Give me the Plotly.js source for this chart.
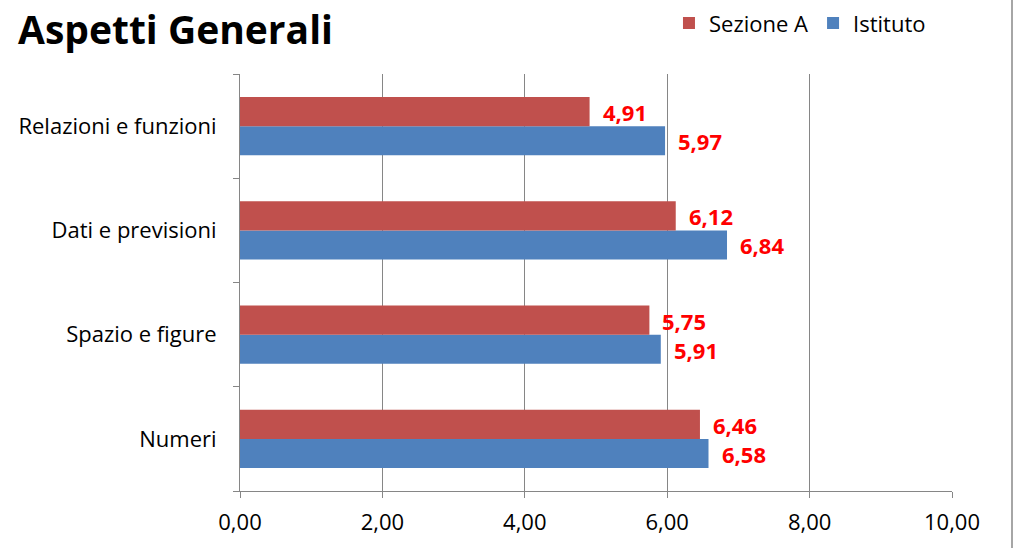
<!DOCTYPE html>
<html>
<head>
<meta charset="utf-8">
<script src="https://cdn.plot.ly/plotly-3.0.1.min.js"></script>
<style>html,body{margin:0;padding:0;background:#fff;}#chart{width:1018px;height:548px;}</style>
</head>
<body>
<div id="chart"></div>
<script>
const categories = ['Numeri', 'Spazio e figure', 'Dati e previsioni', 'Relazioni e funzioni'];
const sezioneA = [6.46, 5.75, 6.12, 4.91];
const istituto = [6.58, 5.91, 6.84, 5.97];
const xTickVals = [0, 2, 4, 6, 8, 10];
const xTickText = ['0,00', '2,00', '4,00', '6,00', '8,00', '10,00'];

const fmt = v => v.toFixed(2).replace('.', ',');
const FONT = '"Open Sans", sans-serif';

const traces = [
  {type: 'bar', orientation: 'h', name: 'Istituto', y: categories, x: istituto,
   marker: {color: '#4F81BD'}, hoverinfo: 'skip'},
  {type: 'bar', orientation: 'h', name: 'Sezione A', y: categories, x: sezioneA,
   marker: {color: '#C0504D'}, hoverinfo: 'skip'}
];

const annotations = [];
categories.forEach((c, i) => {
  annotations.push({x: sezioneA[i], y: c, text: fmt(sezioneA[i]), showarrow: false,
    xanchor: 'left', yanchor: 'middle', xshift: 11, yshift: 14,
    font: {family: FONT, size: 22, color: '#FF0000', weight: 'bold'}});
  annotations.push({x: istituto[i], y: c, text: fmt(istituto[i]), showarrow: false,
    xanchor: 'left', yanchor: 'middle', xshift: 11, yshift: -15,
    font: {family: FONT, size: 22, color: '#FF0000', weight: 'bold'}});
});

const layout = {
  width: 1018, height: 548,
  margin: {l: 240, r: 66, t: 74, b: 57, autoexpand: false},
  paper_bgcolor: '#fff', plot_bgcolor: '#fff',
  font: {family: FONT, size: 22, color: '#000'},
  title: {text: '<b>Aspetti Generali</b>', font: {family: FONT, size: 39, color: '#000'},
    xref: 'container', x: 18/1018, xanchor: 'left', yref: 'container', y: 1 - 30/548, yanchor: 'middle'},
  barmode: 'group', bargap: 0.44, bargroupgap: 0,
  showlegend: true,
  legend: {orientation: 'h', traceorder: 'reversed', x: 0.6025, y: 1.122, xanchor: 'left', yanchor: 'middle',
    font: {family: FONT, size: 22, color: '#000'}, itemclick: false, itemwidth: 30},
  xaxis: {range: [0, 10], tickvals: xTickVals, ticktext: xTickText, showgrid: true, gridcolor: '#868686', gridwidth: 1,
    showline: true, linecolor: '#868686', linewidth: 1, ticks: 'outside', ticklen: 6, tickcolor: '#868686',
    ticklabelstandoff: 6, automargin: false,
    zeroline: false, fixedrange: true, tickfont: {family: FONT, size: 22, color: '#000'}},
  yaxis: {type: 'category', categoryorder: 'array', categoryarray: categories,
    showline: true, linecolor: '#868686', linewidth: 1, ticks: 'outside', ticklen: 6, tickcolor: '#868686',
    tickson: 'boundaries', showgrid: false, zeroline: false, fixedrange: true, ticklabelstandoff: 18, automargin: false,
    tickfont: {family: FONT, size: 22, color: '#000'}},
  annotations: annotations,
  shapes: [{type: 'line', xref: 'paper', yref: 'paper', x0: (1012-240)/712, x1: (1012-240)/712, y0: -57/417, y1: 1 + 74/417,
    line: {color: '#A6A6A6', width: 2}}]
};

Plotly.newPlot('chart', traces, layout, {displayModeBar: false, staticPlot: true});
</script>
</body>
</html>
